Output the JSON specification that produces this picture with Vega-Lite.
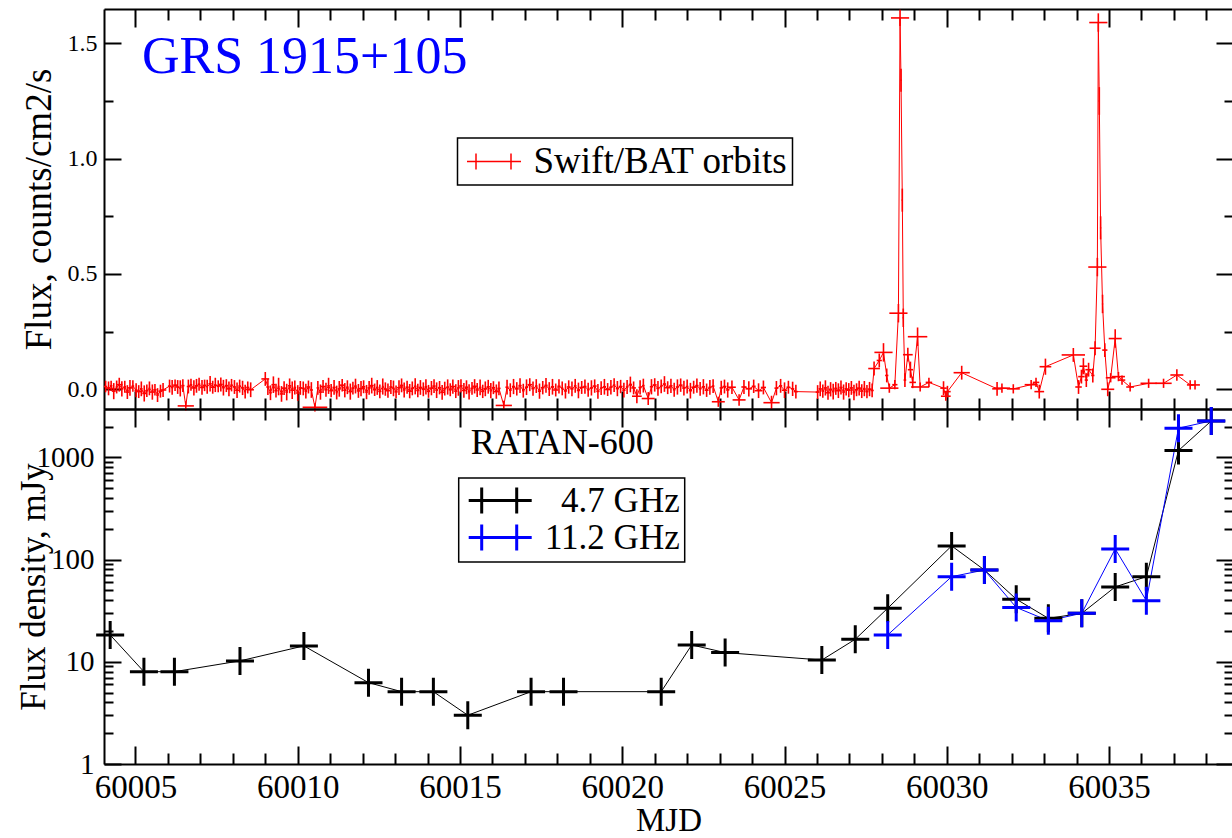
{
  "$schema": "https://vega.github.io/schema/vega-lite/v6.json",
  "autosize": {"type": "pad"},
  "bounds": "flush",
  "padding": {"left": 16, "top": 8, "right": 0, "bottom": 0},
  "spacing": 0,
  "background": "white",
  "config": {
    "view": {"stroke": null},
    "font": "Liberation Serif",
    "axis": {"grid": false, "labelFont": "Liberation Serif", "titleFont": "Liberation Serif", "labelColor": "black", "titleColor": "black", "tickColor": "black", "tickWidth": 2, "domainColor": "black", "domainWidth": 2, "titleFontWeight": "normal", "labelFlush": false, "labelOverlap": false, "labelBound": false},
    "legend": {"labelFont": "Liberation Serif", "labelColor": "black", "strokeColor": "black", "strokeWidth": 1.5, "fillColor": "white", "padding": 5, "labelLimit": 600, "titleLimit": 600}
  },
  "resolve": {"scale": {"color": "independent", "x": "independent", "y": "independent"}, "legend": {"color": "independent"}},
  "datasets": {
    "bat": [
      {"t":60004.08,"f":0.012,"ey":0.025,"ex":0.05},{"t":60004.17,"f":0.004,"ey":0.030,"ex":0.08},{"t":60004.25,"f":0.015,"ey":0.022,"ex":0.04},{"t":60004.33,"f":-0.008,"ey":0.035,"ex":0.06},{"t":60004.42,"f":0.010,"ey":0.028,"ex":0.03},{"t":60004.50,"f":0.020,"ey":0.030,"ex":0.10},{"t":60004.58,"f":0.002,"ey":0.033,"ex":0.05},{"t":60004.67,"f":0.011,"ey":0.026,"ex":0.04},{"t":60004.75,"f":-0.012,"ey":0.030,"ex":0.06},{"t":60004.83,"f":0.006,"ey":0.034,"ex":0.08},{"t":60004.92,"f":0.014,"ey":0.025,"ex":0.04},
      {"t":60005.02,"f":-0.004,"ey":0.030,"ex":0.05},{"t":60005.10,"f":-0.010,"ey":0.028,"ex":0.12},{"t":60005.18,"f":0.002,"ey":0.032,"ex":0.04},{"t":60005.27,"f":-0.018,"ey":0.035,"ex":0.06},{"t":60005.35,"f":-0.006,"ey":0.027,"ex":0.05},{"t":60005.43,"f":0.004,"ey":0.030,"ex":0.03},{"t":60005.52,"f":-0.012,"ey":0.033,"ex":0.08},{"t":60005.60,"f":-0.002,"ey":0.025,"ex":0.05},{"t":60005.68,"f":-0.025,"ey":0.030,"ex":0.04},{"t":60005.77,"f":-0.008,"ey":0.028,"ex":0.06},{"t":60005.85,"f":-0.003,"ey":0.030,"ex":0.10},
      {"t":60006.05,"f":0.014,"ey":0.028,"ex":0.05},{"t":60006.13,"f":0.008,"ey":0.032,"ex":0.04},{"t":60006.22,"f":0.018,"ey":0.025,"ex":0.06},{"t":60006.30,"f":0.010,"ey":0.030,"ex":0.05},{"t":60006.38,"f":0.004,"ey":0.035,"ex":0.03},{"t":60006.46,"f":0.016,"ey":0.028,"ex":0.05},{"t":60006.55,"f":-0.072,"ey":0.020,"ex":0.25},{"t":60006.63,"f":0.012,"ey":0.030,"ex":0.05},{"t":60006.71,"f":0.020,"ey":0.026,"ex":0.04},{"t":60006.80,"f":0.006,"ey":0.033,"ex":0.08},{"t":60006.88,"f":0.015,"ey":0.030,"ex":0.05},{"t":60006.96,"f":0.022,"ey":0.028,"ex":0.04},
      {"t":60007.05,"f":0.008,"ey":0.032,"ex":0.06},{"t":60007.13,"f":0.017,"ey":0.025,"ex":0.05},{"t":60007.21,"f":0.011,"ey":0.030,"ex":0.03},{"t":60007.30,"f":0.024,"ey":0.034,"ex":0.05},{"t":60007.38,"f":0.009,"ey":0.028,"ex":0.07},{"t":60007.46,"f":0.019,"ey":0.031,"ex":0.04},{"t":60007.55,"f":0.013,"ey":0.026,"ex":0.05},{"t":60007.63,"f":0.021,"ey":0.030,"ex":0.06},{"t":60007.71,"f":0.007,"ey":0.034,"ex":0.04},{"t":60007.80,"f":0.016,"ey":0.028,"ex":0.05},{"t":60007.88,"f":0.002,"ey":0.032,"ex":0.08},{"t":60007.96,"f":0.018,"ey":0.027,"ex":0.04},
      {"t":60008.05,"f":0.010,"ey":0.030,"ex":0.05},{"t":60008.13,"f":-0.004,"ey":0.034,"ex":0.06},{"t":60008.21,"f":0.014,"ey":0.028,"ex":0.04},{"t":60008.30,"f":0.006,"ey":0.031,"ex":0.05},{"t":60008.38,"f":-0.010,"ey":0.030,"ex":0.03},{"t":60008.46,"f":0.008,"ey":0.026,"ex":0.05},{"t":60008.55,"f":-0.002,"ey":0.032,"ex":0.10},
      {"t":60009.00,"f":0.045,"ey":0.030,"ex":0.12},{"t":60009.08,"f":0.010,"ey":0.035,"ex":0.05},{"t":60009.16,"f":-0.015,"ey":0.032,"ex":0.04},{"t":60009.25,"f":0.020,"ey":0.036,"ex":0.06},{"t":60009.33,"f":-0.006,"ey":0.030,"ex":0.05},{"t":60009.41,"f":0.012,"ey":0.038,"ex":0.03},{"t":60009.50,"f":-0.020,"ey":0.034,"ex":0.05},{"t":60009.58,"f":0.005,"ey":0.030,"ex":0.08},{"t":60009.66,"f":-0.012,"ey":0.036,"ex":0.04},{"t":60009.75,"f":0.015,"ey":0.032,"ex":0.05},{"t":60009.83,"f":-0.004,"ey":0.038,"ex":0.06},{"t":60009.91,"f":0.008,"ey":0.030,"ex":0.04},{"t":60010.00,"f":-0.016,"ey":0.034,"ex":0.05},{"t":60010.08,"f":0.006,"ey":0.030,"ex":0.05},
      {"t":60010.17,"f":0.004,"ey":0.030,"ex":0.05},{"t":60010.25,"f":-0.008,"ey":0.032,"ex":0.04},{"t":60010.33,"f":0.010,"ey":0.028,"ex":0.06},{"t":60010.42,"f":-0.003,"ey":0.034,"ex":0.05},{"t":60010.53,"f":-0.078,"ey":0.018,"ex":0.38},{"t":60010.62,"f":0.006,"ey":0.030,"ex":0.04},{"t":60010.70,"f":-0.012,"ey":0.033,"ex":0.05},{"t":60010.78,"f":0.012,"ey":0.028,"ex":0.08},{"t":60010.87,"f":-0.002,"ey":0.030,"ex":0.05},{"t":60010.95,"f":0.015,"ey":0.035,"ex":0.04},
      {"t":60011.03,"f":-0.006,"ey":0.029,"ex":0.06},{"t":60011.12,"f":0.008,"ey":0.032,"ex":0.05},{"t":60011.20,"f":-0.014,"ey":0.030,"ex":0.03},{"t":60011.28,"f":0.002,"ey":0.034,"ex":0.05},{"t":60011.37,"f":0.018,"ey":0.027,"ex":0.07},{"t":60011.45,"f":-0.004,"ey":0.031,"ex":0.05},{"t":60011.53,"f":0.009,"ey":0.030,"ex":0.04},{"t":60011.62,"f":-0.010,"ey":0.035,"ex":0.06},{"t":60011.70,"f":0.005,"ey":0.028,"ex":0.05},{"t":60011.78,"f":0.014,"ey":0.032,"ex":0.04},{"t":60011.87,"f":-0.007,"ey":0.030,"ex":0.05},{"t":60011.95,"f":0.003,"ey":0.033,"ex":0.08},
      {"t":60012.03,"f":0.011,"ey":0.028,"ex":0.05},{"t":60012.12,"f":-0.012,"ey":0.031,"ex":0.04},{"t":60012.20,"f":0.006,"ey":0.030,"ex":0.05},{"t":60012.28,"f":0.016,"ey":0.034,"ex":0.06},{"t":60012.37,"f":-0.002,"ey":0.027,"ex":0.05},{"t":60012.45,"f":0.008,"ey":0.032,"ex":0.04},{"t":60012.53,"f":-0.009,"ey":0.030,"ex":0.05},{"t":60012.62,"f":0.012,"ey":0.035,"ex":0.03},{"t":60012.70,"f":0.001,"ey":0.029,"ex":0.05},{"t":60012.78,"f":-0.006,"ey":0.031,"ex":0.07},{"t":60012.87,"f":0.010,"ey":0.030,"ex":0.05},{"t":60012.95,"f":0.004,"ey":0.034,"ex":0.04},
      {"t":60013.03,"f":-0.011,"ey":0.028,"ex":0.05},{"t":60013.12,"f":0.007,"ey":0.032,"ex":0.06},{"t":60013.20,"f":0.017,"ey":0.030,"ex":0.05},{"t":60013.28,"f":-0.003,"ey":0.033,"ex":0.04},{"t":60013.37,"f":0.009,"ey":0.028,"ex":0.05},{"t":60013.45,"f":-0.008,"ey":0.031,"ex":0.08},{"t":60013.53,"f":0.004,"ey":0.030,"ex":0.05},{"t":60013.62,"f":0.013,"ey":0.035,"ex":0.04},{"t":60013.70,"f":-0.005,"ey":0.029,"ex":0.05},{"t":60013.78,"f":0.008,"ey":0.032,"ex":0.06},{"t":60013.87,"f":0.000,"ey":0.030,"ex":0.05},{"t":60013.95,"f":0.011,"ey":0.033,"ex":0.04},
      {"t":60014.03,"f":-0.009,"ey":0.028,"ex":0.05},{"t":60014.12,"f":0.005,"ey":0.031,"ex":0.07},{"t":60014.20,"f":0.014,"ey":0.030,"ex":0.05},{"t":60014.28,"f":-0.004,"ey":0.034,"ex":0.04},{"t":60014.37,"f":0.007,"ey":0.029,"ex":0.05},{"t":60014.45,"f":-0.013,"ey":0.032,"ex":0.06},{"t":60014.53,"f":0.003,"ey":0.030,"ex":0.05},{"t":60014.62,"f":0.010,"ey":0.033,"ex":0.04},{"t":60014.70,"f":-0.002,"ey":0.028,"ex":0.05},{"t":60014.78,"f":0.012,"ey":0.031,"ex":0.08},{"t":60014.87,"f":-0.008,"ey":0.030,"ex":0.05},{"t":60014.95,"f":0.006,"ey":0.034,"ex":0.04},
      {"t":60015.03,"f":0.015,"ey":0.029,"ex":0.05},{"t":60015.12,"f":-0.005,"ey":0.032,"ex":0.06},{"t":60015.20,"f":0.009,"ey":0.030,"ex":0.05},{"t":60015.28,"f":-0.011,"ey":0.033,"ex":0.04},{"t":60015.37,"f":0.004,"ey":0.028,"ex":0.05},{"t":60015.45,"f":0.013,"ey":0.031,"ex":0.07},{"t":60015.53,"f":-0.003,"ey":0.030,"ex":0.05},{"t":60015.62,"f":0.008,"ey":0.034,"ex":0.04},{"t":60015.70,"f":-0.009,"ey":0.029,"ex":0.05},{"t":60015.78,"f":0.002,"ey":0.032,"ex":0.06},{"t":60015.87,"f":0.011,"ey":0.030,"ex":0.05},{"t":60015.95,"f":-0.006,"ey":0.033,"ex":0.04},
      {"t":60016.03,"f":0.007,"ey":0.028,"ex":0.05},{"t":60016.12,"f":-0.010,"ey":0.031,"ex":0.08},{"t":60016.20,"f":0.004,"ey":0.030,"ex":0.05},{"t":60016.35,"f":-0.070,"ey":0.020,"ex":0.25},{"t":60016.45,"f":0.009,"ey":0.032,"ex":0.05},{"t":60016.55,"f":-0.004,"ey":0.030,"ex":0.04},{"t":60016.65,"f":0.012,"ey":0.033,"ex":0.05},{"t":60016.75,"f":0.002,"ey":0.029,"ex":0.06},{"t":60016.85,"f":0.016,"ey":0.032,"ex":0.05},{"t":60016.95,"f":-0.006,"ey":0.030,"ex":0.04},
      {"t":60017.05,"f":0.009,"ey":0.034,"ex":0.05},{"t":60017.15,"f":0.020,"ey":0.028,"ex":0.07},{"t":60017.25,"f":0.003,"ey":0.031,"ex":0.05},{"t":60017.35,"f":0.014,"ey":0.030,"ex":0.04},{"t":60017.45,"f":-0.008,"ey":0.033,"ex":0.05},{"t":60017.55,"f":0.007,"ey":0.029,"ex":0.06},{"t":60017.65,"f":0.017,"ey":0.032,"ex":0.05},{"t":60017.75,"f":0.001,"ey":0.030,"ex":0.04},{"t":60017.85,"f":0.011,"ey":0.034,"ex":0.05},{"t":60017.95,"f":-0.003,"ey":0.028,"ex":0.08},
      {"t":60018.05,"f":0.013,"ey":0.031,"ex":0.05},{"t":60018.15,"f":0.004,"ey":0.030,"ex":0.04},{"t":60018.25,"f":-0.007,"ey":0.033,"ex":0.05},{"t":60018.35,"f":0.010,"ey":0.029,"ex":0.06},{"t":60018.45,"f":0.002,"ey":0.032,"ex":0.05},{"t":60018.55,"f":0.015,"ey":0.030,"ex":0.04},{"t":60018.65,"f":-0.005,"ey":0.034,"ex":0.05},{"t":60018.75,"f":0.008,"ey":0.028,"ex":0.07},{"t":60018.85,"f":0.012,"ey":0.031,"ex":0.05},{"t":60018.95,"f":-0.002,"ey":0.030,"ex":0.04},
      {"t":60019.05,"f":0.006,"ey":0.033,"ex":0.05},{"t":60019.15,"f":0.014,"ey":0.029,"ex":0.06},{"t":60019.25,"f":-0.009,"ey":0.032,"ex":0.05},{"t":60019.35,"f":0.005,"ey":0.030,"ex":0.04},{"t":60019.45,"f":0.011,"ey":0.034,"ex":0.05},{"t":60019.55,"f":-0.001,"ey":0.028,"ex":0.08},{"t":60019.65,"f":0.009,"ey":0.031,"ex":0.05},{"t":60019.75,"f":0.018,"ey":0.030,"ex":0.04},{"t":60019.85,"f":0.003,"ey":0.033,"ex":0.05},{"t":60019.95,"f":0.012,"ey":0.029,"ex":0.06},
      {"t":60020.05,"f":-0.004,"ey":0.032,"ex":0.05},{"t":60020.15,"f":0.010,"ey":0.030,"ex":0.04},{"t":60020.25,"f":0.021,"ey":0.034,"ex":0.05},{"t":60020.35,"f":0.006,"ey":0.028,"ex":0.07},{"t":60020.45,"f":-0.030,"ey":0.030,"ex":0.15},{"t":60020.55,"f":0.008,"ey":0.031,"ex":0.05},{"t":60020.65,"f":0.016,"ey":0.030,"ex":0.04},{"t":60020.80,"f":-0.040,"ey":0.028,"ex":0.20},{"t":60020.90,"f":0.011,"ey":0.033,"ex":0.05},
      {"t":60021.00,"f":0.019,"ey":0.029,"ex":0.06},{"t":60021.10,"f":0.004,"ey":0.032,"ex":0.05},{"t":60021.20,"f":0.013,"ey":0.030,"ex":0.04},{"t":60021.30,"f":0.023,"ey":0.034,"ex":0.05},{"t":60021.40,"f":0.007,"ey":0.028,"ex":0.08},{"t":60021.50,"f":0.015,"ey":0.031,"ex":0.05},{"t":60021.60,"f":-0.002,"ey":0.030,"ex":0.04},{"t":60021.70,"f":0.010,"ey":0.033,"ex":0.05},{"t":60021.80,"f":0.018,"ey":0.029,"ex":0.06},{"t":60021.90,"f":0.005,"ey":0.032,"ex":0.05},
      {"t":60022.00,"f":0.012,"ey":0.030,"ex":0.04},{"t":60022.10,"f":-0.006,"ey":0.034,"ex":0.05},{"t":60022.20,"f":0.009,"ey":0.028,"ex":0.07},{"t":60022.30,"f":0.016,"ey":0.031,"ex":0.05},{"t":60022.40,"f":0.002,"ey":0.030,"ex":0.04},{"t":60022.50,"f":0.011,"ey":0.033,"ex":0.05},{"t":60022.60,"f":-0.004,"ey":0.029,"ex":0.06},{"t":60022.70,"f":0.008,"ey":0.032,"ex":0.05},{"t":60022.80,"f":0.014,"ey":0.030,"ex":0.04},{"t":60022.96,"f":-0.054,"ey":0.022,"ex":0.20},
      {"t":60023.05,"f":0.006,"ey":0.031,"ex":0.05},{"t":60023.15,"f":0.012,"ey":0.030,"ex":0.06},{"t":60023.25,"f":-0.003,"ey":0.033,"ex":0.05},{"t":60023.38,"f":0.009,"ey":0.029,"ex":0.12},{"t":60023.60,"f":-0.046,"ey":0.025,"ex":0.20},{"t":60023.75,"f":0.010,"ey":0.030,"ex":0.08},{"t":60023.90,"f":0.002,"ey":0.033,"ex":0.10},
      {"t":60024.05,"f":0.013,"ey":0.029,"ex":0.06},{"t":60024.20,"f":-0.006,"ey":0.032,"ex":0.12},{"t":60024.35,"f":0.008,"ey":0.030,"ex":0.08},{"t":60024.60,"f":-0.058,"ey":0.030,"ex":0.25},{"t":60024.75,"f":0.005,"ey":0.031,"ex":0.06},{"t":60024.88,"f":0.015,"ey":0.030,"ex":0.05},{"t":60025.00,"f":-0.004,"ey":0.034,"ex":0.08},{"t":60025.12,"f":0.009,"ey":0.028,"ex":0.06},{"t":60025.25,"f":0.002,"ey":0.031,"ex":0.05},{"t":60025.35,"f":-0.010,"ey":0.030,"ex":0.06},
      {"t":60026.02,"f":-0.012,"ey":0.030,"ex":0.06},{"t":60026.10,"f":0.002,"ey":0.032,"ex":0.05},{"t":60026.18,"f":-0.008,"ey":0.029,"ex":0.04},{"t":60026.26,"f":0.006,"ey":0.033,"ex":0.05},{"t":60026.34,"f":-0.015,"ey":0.030,"ex":0.06},{"t":60026.42,"f":0.000,"ey":0.031,"ex":0.05},{"t":60026.50,"f":-0.010,"ey":0.034,"ex":0.04},{"t":60026.58,"f":0.004,"ey":0.028,"ex":0.05},{"t":60026.66,"f":-0.006,"ey":0.032,"ex":0.08},{"t":60026.74,"f":0.008,"ey":0.030,"ex":0.05},{"t":60026.82,"f":-0.012,"ey":0.033,"ex":0.04},{"t":60026.90,"f":0.002,"ey":0.029,"ex":0.05},{"t":60026.98,"f":-0.004,"ey":0.031,"ex":0.06},
      {"t":60027.06,"f":0.006,"ey":0.030,"ex":0.05},{"t":60027.14,"f":-0.014,"ey":0.034,"ex":0.04},{"t":60027.22,"f":-0.002,"ey":0.028,"ex":0.05},{"t":60027.30,"f":0.005,"ey":0.032,"ex":0.07},{"t":60027.38,"f":-0.008,"ey":0.030,"ex":0.05},{"t":60027.46,"f":0.003,"ey":0.033,"ex":0.04},{"t":60027.54,"f":-0.010,"ey":0.029,"ex":0.05},{"t":60027.62,"f":0.001,"ey":0.031,"ex":0.06},{"t":60027.70,"f":-0.005,"ey":0.030,"ex":0.05},
      {"t":60027.76,"f":0.090,"ey":0.030,"ex":0.18},{"t":60027.92,"f":0.125,"ey":0.030,"ex":0.08},{"t":60028.05,"f":0.160,"ey":0.040,"ex":0.28},{"t":60028.15,"f":0.060,"ey":0.030,"ex":0.05},{"t":60028.23,"f":0.005,"ey":0.020,"ex":0.28},{"t":60028.40,"f":0.020,"ey":0.020,"ex":0.08},{"t":60028.51,"f":0.330,"ey":0.040,"ex":0.28},{"t":60028.56,"f":1.610,"ey":0.035,"ex":0.28},{"t":60028.59,"f":1.340,"ey":0.050,"ex":0.02},{"t":60028.63,"f":0.820,"ey":0.050,"ex":0.02},{"t":60028.66,"f":0.310,"ey":0.040,"ex":0.02},{"t":60028.71,"f":0.040,"ey":0.030,"ex":0.04},{"t":60028.80,"f":0.150,"ey":0.030,"ex":0.15},{"t":60028.88,"f":0.085,"ey":0.035,"ex":0.08},{"t":60028.95,"f":0.030,"ey":0.025,"ex":0.10},
      {"t":60029.10,"f":0.228,"ey":0.040,"ex":0.30},{"t":60029.18,"f":0.010,"ey":0.020,"ex":0.28},{"t":60029.45,"f":0.030,"ey":0.020,"ex":0.10},{"t":60029.90,"f":0.005,"ey":0.030,"ex":0.10},{"t":60029.97,"f":-0.030,"ey":0.020,"ex":0.15},{"t":60030.02,"f":-0.010,"ey":0.025,"ex":0.10},{"t":60030.46,"f":0.072,"ey":0.030,"ex":0.25},
      {"t":60031.55,"f":0.002,"ey":0.030,"ex":0.15},{"t":60031.70,"f":0.005,"ey":0.020,"ex":0.25},{"t":60032.05,"f":0.002,"ey":0.020,"ex":0.20},{"t":60032.60,"f":0.020,"ey":0.020,"ex":0.20},{"t":60032.75,"f":0.030,"ey":0.020,"ex":0.10},{"t":60032.85,"f":-0.010,"ey":0.030,"ex":0.15},{"t":60033.04,"f":0.098,"ey":0.035,"ex":0.18},{"t":60033.90,"f":0.149,"ey":0.030,"ex":0.36},
      {"t":60034.06,"f":0.010,"ey":0.030,"ex":0.10},{"t":60034.15,"f":0.055,"ey":0.030,"ex":0.10},{"t":60034.21,"f":0.100,"ey":0.035,"ex":0.12},{"t":60034.30,"f":0.040,"ey":0.030,"ex":0.05},{"t":60034.37,"f":0.085,"ey":0.030,"ex":0.10},{"t":60034.50,"f":0.060,"ey":0.030,"ex":0.05},{"t":60034.57,"f":0.178,"ey":0.030,"ex":0.17},{"t":60034.64,"f":0.530,"ey":0.040,"ex":0.28},{"t":60034.67,"f":1.590,"ey":0.040,"ex":0.28},{"t":60034.70,"f":1.250,"ey":0.060,"ex":0.02},{"t":60034.74,"f":0.700,"ey":0.050,"ex":0.02},{"t":60034.80,"f":0.370,"ey":0.040,"ex":0.02},{"t":60034.87,"f":0.170,"ey":0.030,"ex":0.08},{"t":60034.96,"f":0.000,"ey":0.030,"ex":0.20},
      {"t":60035.05,"f":0.050,"ey":0.020,"ex":0.15},{"t":60035.19,"f":0.220,"ey":0.040,"ex":0.20},{"t":60035.29,"f":0.055,"ey":0.020,"ex":0.20},{"t":60035.40,"f":0.040,"ey":0.020,"ex":0.10},{"t":60035.65,"f":0.010,"ey":0.020,"ex":0.12},{"t":60036.22,"f":0.026,"ey":0.020,"ex":0.25},{"t":60036.68,"f":0.026,"ey":0.020,"ex":0.25},{"t":60037.09,"f":0.062,"ey":0.025,"ex":0.20},{"t":60037.50,"f":0.019,"ey":0.020,"ex":0.10},{"t":60037.65,"f":0.019,"ey":0.020,"ex":0.15}
    ],
    "ratan": [
      {"t":60004.22,"flux":18.3,"band":"4.7 GHz"},{"t":60005.26,"flux":8.0,"band":"4.7 GHz"},{"t":60006.2,"flux":8.0,"band":"4.7 GHz"},{"t":60008.22,"flux":10.2,"band":"4.7 GHz"},{"t":60010.19,"flux":14.3,"band":"4.7 GHz"},{"t":60012.18,"flux":6.25,"band":"4.7 GHz"},{"t":60013.2,"flux":5.1,"band":"4.7 GHz"},{"t":60014.18,"flux":5.1,"band":"4.7 GHz"},{"t":60015.24,"flux":3.0,"band":"4.7 GHz"},{"t":60017.19,"flux":5.1,"band":"4.7 GHz"},{"t":60018.19,"flux":5.1,"band":"4.7 GHz"},{"t":60021.2,"flux":5.1,"band":"4.7 GHz"},{"t":60022.14,"flux":14.6,"band":"4.7 GHz"},{"t":60023.17,"flux":12.3,"band":"4.7 GHz"},{"t":60026.15,"flux":10.4,"band":"4.7 GHz"},{"t":60027.18,"flux":16.6,"band":"4.7 GHz"},{"t":60028.18,"flux":33.4,"band":"4.7 GHz"},{"t":60030.15,"flux":136,"band":"4.7 GHz"},{"t":60031.16,"flux":79,"band":"4.7 GHz"},{"t":60032.14,"flux":41,"band":"4.7 GHz"},{"t":60033.13,"flux":26.6,"band":"4.7 GHz"},{"t":60034.16,"flux":29.8,"band":"4.7 GHz"},{"t":60035.19,"flux":54,"band":"4.7 GHz"},{"t":60036.15,"flux":68,"band":"4.7 GHz"},{"t":60037.14,"flux":1164,"band":"4.7 GHz"},{"t":60038.15,"flux":2270,"band":"4.7 GHz"},
      {"t":60028.18,"flux":18.3,"band":"11.2 GHz"},{"t":60030.15,"flux":68,"band":"11.2 GHz"},{"t":60031.16,"flux":79,"band":"11.2 GHz"},{"t":60032.14,"flux":34,"band":"11.2 GHz"},{"t":60033.13,"flux":25.2,"band":"11.2 GHz"},{"t":60034.16,"flux":29.8,"band":"11.2 GHz"},{"t":60035.19,"flux":127,"band":"11.2 GHz"},{"t":60036.15,"flux":39.6,"band":"11.2 GHz"},{"t":60037.14,"flux":1928,"band":"11.2 GHz"},{"t":60038.15,"flux":2270,"band":"11.2 GHz"}
    ]
  },
  "vconcat": [
    {
      "width": 1129,
      "height": 400,
      "resolve": {"axis": {"x": "independent", "y": "independent"}},
      "layer": [
        {
          "data": {"name": "bat"},
          "mark": {"type": "line", "strokeWidth": 1},
          "encoding": {
            "x": {"field": "t", "type": "quantitative", "scale": {"domain": [60004.03, 60038.82], "nice": false, "zero": false},
              "axis": {"orient": "bottom", "values": [60004,60005,60006,60007,60008,60009,60010,60011,60012,60013,60014,60015,60016,60017,60018,60019,60020,60021,60022,60023,60024,60025,60026,60027,60028,60029,60030,60031,60032,60033,60034,60035,60036,60037,60038], "labels": false, "title": null, "domain": true, "tickSize": {"condition": {"test": "datum.value % 5 === 0", "value": -18}, "value": -11}}},
            "y": {"field": "f", "type": "quantitative", "scale": {"domain": [-0.0854, 1.6487], "nice": false, "zero": false},
              "axis": {"orient": "left", "values": [0, 0.25, 0.5, 0.75, 1, 1.25, 1.5], "labelExpr": "datum.value * 2 % 1 === 0 ? format(datum.value, '.1f') : ''", "labelFontSize": 24, "labelPadding": 24, "tickSize": {"condition": {"test": "datum.value * 2 % 1 === 0", "value": -17}, "value": -9}, "domain": true, "title": "Flux, counts/cm2/s", "titleFontSize": 37, "titleX": -54, "titleBaseline": "alphabetic"}},
            "color": {"datum": "Swift/BAT orbits", "type": "nominal", "scale": {"domain": ["Swift/BAT orbits"], "range": ["#ff0000"]},
              "legend": {"orient": "none", "legendX": 353.5, "legendY": 129, "title": null, "labelFontSize": 37, "symbolType": "M-2.7,0H2.7M-1.8,-0.8V0.8M1.7,-0.8V0.8", "symbolSize": 400, "symbolStrokeWidth": 1.5, "symbolFillColor": "transparent", "symbolOffset": 13, "labelOffset": 21}}
          }
        },
        {
          "data": {"name": "bat"},
          "mark": {"type": "errorbar", "color": "#ff0000", "thickness": 1.6},
          "encoding": {
            "x": {"field": "t", "type": "quantitative",
              "axis": {"orient": "top", "values": [60004,60005,60006,60007,60008,60009,60010,60011,60012,60013,60014,60015,60016,60017,60018,60019,60020,60021,60022,60023,60024,60025,60026,60027,60028,60029,60030,60031,60032,60033,60034,60035,60036,60037,60038], "labels": false, "title": null, "domain": true, "tickSize": {"condition": {"test": "datum.value % 5 === 0", "value": -18}, "value": -11}}},
            "y": {"field": "f", "type": "quantitative",
              "axis": {"orient": "right", "values": [0, 0.25, 0.5, 0.75, 1, 1.25, 1.5], "labels": false, "title": null, "domain": false, "tickSize": {"condition": {"test": "datum.value * 2 % 1 === 0", "value": -17}, "value": -9}}},
            "yError": {"field": "ey"}
          }
        },
        {
          "data": {"name": "bat"},
          "mark": {"type": "errorbar", "color": "#ff0000", "thickness": 1.6},
          "encoding": {
            "x": {"field": "t", "type": "quantitative", "axis": null},
            "xError": {"field": "ex"},
            "y": {"field": "f", "type": "quantitative", "axis": null}
          }
        },
        {
          "data": {"values": [{"label": "GRS 1915+105"}]},
          "mark": {"type": "text", "align": "left", "baseline": "alphabetic", "font": "Liberation Serif", "fontSize": 52, "color": "#0000ff"},
          "encoding": {
            "x": {"datum": 60005.2, "type": "quantitative", "axis": null},
            "y": {"datum": 1.371, "type": "quantitative", "axis": null},
            "text": {"field": "label"}
          }
        }
      ]
    },
    {
      "width": 1129,
      "height": 355,
      "resolve": {"axis": {"x": "independent", "y": "independent"}},
      "layer": [
        {
          "data": {"name": "ratan"},
          "mark": {"type": "line", "strokeWidth": 1},
          "encoding": {
            "x": {"field": "t", "type": "quantitative", "scale": {"domain": [60004.03, 60038.82], "nice": false, "zero": false},
              "axis": {"orient": "bottom", "values": [60004,60005,60006,60007,60008,60009,60010,60011,60012,60013,60014,60015,60016,60017,60018,60019,60020,60021,60022,60023,60024,60025,60026,60027,60028,60029,60030,60031,60032,60033,60034,60035,60036,60037,60038], "format": "d", "labelExpr": "datum.value % 5 === 0 ? datum.label : ''", "labelFontSize": 33, "labelPadding": 25, "domain": true, "tickSize": {"condition": {"test": "datum.value % 5 === 0", "value": -18}, "value": -11}, "title": "MJD", "titleFontSize": 33, "titleY": 66, "titleBaseline": "alphabetic"}},
            "y": {"field": "flux", "type": "quantitative", "scale": {"type": "log", "domain": [1, 2969], "nice": false},
              "axis": {"orient": "left", "values": [1,2,3,4,5,6,7,8,9,10,20,30,40,50,60,70,80,90,100,200,300,400,500,600,700,800,900,1000,2000], "format": "d", "labelExpr": "indexof([1,10,100,1000], datum.value) >= 0 ? datum.label : ''", "labelFontSize": 29, "labelPadding": 27, "domain": true, "tickSize": {"condition": {"test": "indexof([1,10,100,1000], datum.value) >= 0", "value": -17}, "value": -9}, "title": "Flux density, mJy", "titleFontSize": 35, "titleX": -60, "titleBaseline": "alphabetic"}},
            "color": {"field": "band", "type": "nominal", "scale": {"domain": ["4.7 GHz", "11.2 GHz"], "range": ["#000000", "#0000ff"]},
              "legend": {"orient": "none", "legendX": 354.7, "legendY": 69, "title": null, "labelFontSize": 35, "labelAlign": "right", "rowPadding": -4, "symbolType": "M-3.15,0H3.15M-1.85,-1.3V1.3M1.65,-1.3V1.3", "symbolSize": 400, "symbolStrokeWidth": 3, "symbolFillColor": "transparent", "symbolOffset": 19, "labelOffset": 162}},
            "order": {"field": "t"}
          }
        },
        {
          "data": {"name": "ratan"},
          "mark": {"type": "point", "shape": "M-1,0H1M0,-1V1", "size": 784, "strokeWidth": 3, "filled": false, "opacity": 1},
          "encoding": {
            "x": {"field": "t", "type": "quantitative",
              "axis": {"orient": "top", "values": [60004,60005,60006,60007,60008,60009,60010,60011,60012,60013,60014,60015,60016,60017,60018,60019,60020,60021,60022,60023,60024,60025,60026,60027,60028,60029,60030,60031,60032,60033,60034,60035,60036,60037,60038], "labels": false, "title": null, "domain": true, "tickSize": {"condition": {"test": "datum.value % 5 === 0", "value": -18}, "value": -11}}},
            "y": {"field": "flux", "type": "quantitative",
              "axis": {"orient": "right", "values": [1,2,3,4,5,6,7,8,9,10,20,30,40,50,60,70,80,90,100,200,300,400,500,600,700,800,900,1000,2000], "labels": false, "title": null, "domain": false, "tickSize": {"condition": {"test": "indexof([1,10,100,1000], datum.value) >= 0", "value": -17}, "value": -9}}},
            "color": {"field": "band", "type": "nominal", "scale": {"domain": ["4.7 GHz", "11.2 GHz"], "range": ["#000000", "#0000ff"]},
              "legend": {"orient": "none", "legendX": 354.7, "legendY": 69, "title": null, "labelFontSize": 35, "labelAlign": "right", "rowPadding": -4, "symbolType": "M-3.15,0H3.15M-1.85,-1.3V1.3M1.65,-1.3V1.3", "symbolSize": 400, "symbolStrokeWidth": 3, "symbolFillColor": "transparent", "symbolOffset": 19, "labelOffset": 162}}
          }
        },
        {
          "data": {"values": [{"label": "RATAN-600"}]},
          "mark": {"type": "text", "align": "left", "baseline": "alphabetic", "font": "Liberation Serif", "fontSize": 36, "color": "black"},
          "encoding": {
            "x": {"datum": 60015.33, "type": "quantitative", "axis": null},
            "y": {"datum": 1077, "type": "quantitative", "axis": null},
            "text": {"field": "label"}
          }
        }
      ]
    }
  ]
}
